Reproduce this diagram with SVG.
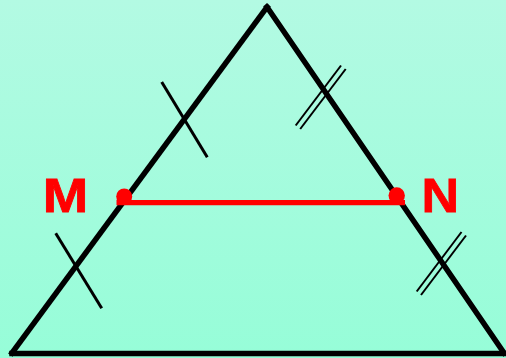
<svg xmlns="http://www.w3.org/2000/svg" width="506" height="358" viewBox="0 0 506 358">
<defs>
<linearGradient id="bg" x1="0" y1="0" x2="0" y2="1">
<stop offset="0" stop-color="#b3fae3"/>
<stop offset="1" stop-color="#96fdd8"/>
</linearGradient>
<style>
.side{stroke:#000;stroke-width:5.5;stroke-linecap:square;fill:none}
.tick{stroke:#000;stroke-width:3;fill:none}
.dtick{stroke:#000;stroke-width:2;fill:none}
.mid{stroke:#ff0000;stroke-width:5.3;fill:none}
.pt{fill:#ff0000}
.lbl{font-family:"Liberation Sans",Arial,sans-serif;font-weight:bold;font-size:49px;fill:#ff0000;stroke:#ff0000;stroke-width:0.8}
</style>
</defs>
<rect width="506" height="358" fill="url(#bg)"/>
<g id="triangle">
<line class="side" x1="12" y1="353" x2="267" y2="7"/>
<line class="side" x1="267" y1="7" x2="504" y2="353"/>
<line class="side" x1="12" y1="353.5" x2="504" y2="353.5"/>
</g>
<g id="ticks">
<line class="tick" x1="161.7" y1="82" x2="207.3" y2="157.3"/>
<line class="tick" x1="55.7" y1="233.3" x2="101.7" y2="308.3"/>
<line class="dtick" x1="295.7" y1="125.5" x2="341" y2="65.5"/>
<line class="dtick" x1="300.2" y1="129" x2="345.7" y2="69"/>
<line class="dtick" x1="416.7" y1="291.5" x2="461.5" y2="232"/>
<line class="dtick" x1="421" y1="295" x2="466" y2="235.5"/>
</g>
<g id="MN">
<line class="mid" x1="116.5" y1="202.7" x2="405" y2="202.7"/>
</g>
<g id="M">
<circle class="pt" cx="124.2" cy="196.5" r="8"/>
<text class="lbl" x="42.7" y="212" textLength="45.5" lengthAdjust="spacingAndGlyphs">M</text>
</g>
<g id="N">
<circle class="pt" cx="396.7" cy="195.5" r="8.2"/>
<text class="lbl" x="421.5" y="212" textLength="37.6" lengthAdjust="spacingAndGlyphs">N</text>
</g>
</svg>
